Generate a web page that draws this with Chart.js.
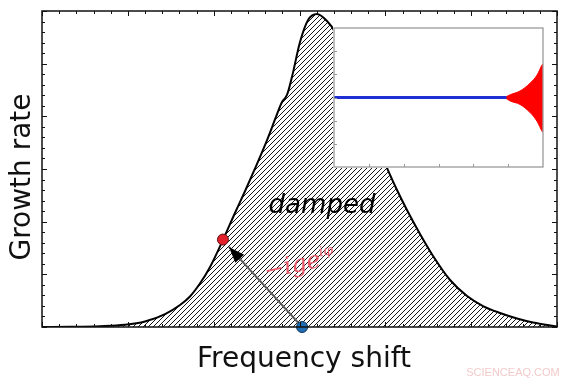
<!DOCTYPE html>
<html><head><meta charset="utf-8">
<script src="https://cdn.jsdelivr.net/npm/chart.js@4"></script>
<style>
html,body{margin:0;padding:0;background:#fff;}
#wrap{position:relative;width:571px;height:381px;overflow:hidden;}
#main{position:absolute;left:0;top:0;}
#inset{position:absolute;left:333px;top:27px;}
</style></head><body>
<div id="wrap"><canvas id="main" width="571" height="381"></canvas><canvas id="inset" width="211" height="141"></canvas></div>
<script>
// ---- main curve (growth rate vs frequency shift), axis units 0..30 ----
const curveX = [0, 1.63, 3.38, 4.83, 6.00, 7.17, 8.04, 8.62, 9.20, 9.79, 10.54, 11.24, 11.83, 12.47, 13.11, 13.63, 13.98, 14.27, 14.56, 15.03, 15.50, 16.02, 16.60, 17.07, 17.83, 18.64, 19.40, 20.10, 20.68, 21.26, 22.02, 22.78, 23.77, 24.76, 25.69, 26.68, 27.67, 28.60, 30];
const curveY = [0, 0.02, 0.08, 0.21, 0.52, 1.23, 2.09, 2.90, 4.13, 5.70, 8.26, 10.82, 12.91, 15.28, 17.75, 19.94, 21.36, 22.03, 23.73, 27.06, 29.15, 29.72, 29.05, 28.01, 25.16, 21.27, 17.75, 15.09, 13.01, 11.11, 8.83, 6.74, 4.46, 2.94, 1.99, 1.33, 0.81, 0.43, 0.05];
const redPoint = [10.54, 8.3];
const bluePoint = [15.15, 0];
const arrowTip = [10.89, 7.6];
// ---- inset: signal vs time, units x 0..6, y -3..3 ----
const insetBlueX = [0, 4.95];
const insetBlueY = [0, 0];
const envX = [4.9, 5.06, 5.34, 5.63, 5.83, 5.98, 6.0];
const envUpper = [0, 0.12, 0.28, 0.62, 0.97, 1.42, 1.45];
const envLower = [0, -0.15, -0.3, -0.65, -1.03, -1.47, -1.5];
const xTicks = Array.from({length: 31}, (_, i) => i);
const yTicks = Array.from({length: 31}, (_, i) => i);
const insetXTicks = [1, 2, 3, 4, 5];
const insetYTicks = [-2, -1, 0, 1, 2];
const labels = {x: 'Frequency shift', y: 'Growth rate', region: 'damped', formula: '\u2212ige', formulaSup: 'i\u03c6', mark: 'SCIENCEAQ.COM'};

const pts = (xs, ys) => xs.map((x, i) => ({x, y: ys[i]}));

const mainCanvas = document.getElementById('main');
const mctx = mainCanvas.getContext('2d');
function hatch() {
  const c = document.createElement('canvas'); c.width = 5; c.height = 5;
  const g = c.getContext('2d');
  g.strokeStyle = '#151515'; g.lineWidth = 1;
  g.beginPath();
  g.moveTo(0, 5); g.lineTo(5, 0);
  g.moveTo(-1, 1); g.lineTo(1, -1);
  g.moveTo(4, 6); g.lineTo(6, 4);
  g.stroke();
  return mctx.createPattern(c, 'repeat');
}

const frameMain = {
  id: 'frameMain',
  afterDatasetsDraw(chart) {
    const {ctx, chartArea: a, scales: {x, y}} = chart;
    ctx.save();
    // arrowhead
    const bx = x.getPixelForValue(bluePoint[0]), by = y.getPixelForValue(bluePoint[1]);
    const tx = x.getPixelForValue(arrowTip[0]), ty = y.getPixelForValue(arrowTip[1]);
    const ang = Math.atan2(ty - by, tx - bx);
    const L = 16, W = 6;
    ctx.fillStyle = '#000';
    ctx.beginPath();
    ctx.moveTo(tx, ty);
    ctx.lineTo(tx - L * Math.cos(ang) + W * Math.sin(ang), ty - L * Math.sin(ang) - W * Math.cos(ang));
    ctx.lineTo(tx - L * Math.cos(ang) - W * Math.sin(ang), ty - L * Math.sin(ang) + W * Math.cos(ang));
    ctx.closePath(); ctx.fill();
    // frame
    ctx.strokeStyle = '#111'; ctx.lineWidth = 1.5;
    ctx.strokeRect(a.left, a.top, a.right - a.left, a.bottom - a.top);
    ctx.lineWidth = 1;
    ctx.beginPath();
    xTicks.forEach(v => {
      const px = Math.round(x.getPixelForValue(v)) + 0.5;
      const l = v % 5 === 0 ? 5 : 3;
      ctx.moveTo(px, a.top); ctx.lineTo(px, a.top + l);
      ctx.moveTo(px, a.bottom); ctx.lineTo(px, a.bottom - l);
    });
    yTicks.forEach(v => {
      const py = Math.round(y.getPixelForValue(v)) + 0.5;
      const l = v % 5 === 0 ? 5 : 3;
      ctx.moveTo(a.left, py); ctx.lineTo(a.left + l, py);
      ctx.moveTo(a.right, py); ctx.lineTo(a.right - l, py);
    });
    ctx.stroke();
    ctx.restore();
  },
  afterDraw(chart) {
    const {ctx} = chart;
    ctx.save();
    ctx.fillStyle = '#111';
    ctx.font = '28px "DejaVu Sans"';
    ctx.textAlign = 'center'; ctx.textBaseline = 'alphabetic';
    ctx.fillText(labels.x, 304, 367);
    ctx.save();
    ctx.translate(30, 177); ctx.rotate(-Math.PI / 2);
    ctx.fillText(labels.y, 0, 0);
    ctx.restore();
    ctx.font = 'oblique 26px "DejaVu Sans"';
    ctx.fillStyle = '#000';
    ctx.fillText(labels.region, 322, 213);
    // formula
    ctx.save();
    ctx.translate(266, 279); ctx.rotate(-0.22);
    ctx.fillStyle = 'rgb(236,88,104)';
    ctx.textAlign = 'left';
    ctx.font = 'italic 24px "DejaVu Serif"';
    ctx.fillText(labels.formula, 0, 0);
    const w = ctx.measureText(labels.formula).width;
    ctx.font = 'italic 14px "DejaVu Serif"';
    ctx.fillText(labels.formulaSup, w, -10);
    ctx.restore();
    ctx.fillStyle = '#f3caca';
    ctx.font = '11px "Liberation Sans"';
    ctx.textAlign = 'center';
    ctx.fillText(labels.mark, 513, 376);
    ctx.restore();
  }
};

new Chart(mctx, {
  type: 'line',
  data: {
    datasets: [
      {data: [{x: redPoint[0], y: redPoint[1]}], showLine: false, pointRadius: 5.5, pointBackgroundColor: '#e3202a', pointBorderColor: '#5a1010', pointBorderWidth: 1, order: 0},
      {data: [{x: bluePoint[0], y: bluePoint[1]}], showLine: false, pointRadius: 5.5, pointBackgroundColor: '#1f6db3', pointBorderColor: '#0d3560', pointBorderWidth: 1, order: 0, clip: false},
      {data: [{x: bluePoint[0], y: bluePoint[1]}, {x: arrowTip[0], y: arrowTip[1]}], borderColor: '#5c5c5c', borderWidth: 2, pointRadius: 0, fill: false, order: 1},
      {data: pts(curveX, curveY), borderColor: '#000', borderWidth: 2, pointRadius: 0, fill: 'origin', backgroundColor: hatch(), cubicInterpolationMode: 'monotone', order: 2}
    ]
  },
  options: {
    responsive: false, animation: false, devicePixelRatio: 1,
    layout: {padding: {left: 42, right: 14, top: 11, bottom: 54}},
    scales: {
      x: {type: 'linear', min: 0, max: 30, display: false},
      y: {type: 'linear', min: 0, max: 30, display: false}
    },
    plugins: {legend: {display: false}, tooltip: {enabled: false}, title: {display: false}}
  },
  plugins: [frameMain]
});

const frameInset = {
  id: 'frameInset',
  beforeDraw(chart) {
    const {ctx} = chart;
    ctx.save(); ctx.fillStyle = '#fff'; ctx.fillRect(0, 0, chart.width, chart.height); ctx.restore();
  },
  afterDraw(chart) {
    const {ctx, chartArea: a, scales: {x, y}} = chart;
    ctx.save();
    ctx.strokeStyle = '#9a9a9a'; ctx.lineWidth = 1.3;
    ctx.strokeRect(a.left, a.top, a.right - a.left, a.bottom - a.top);
    ctx.lineWidth = 1;
    ctx.beginPath();
    insetXTicks.forEach(v => { const px = Math.round(x.getPixelForValue(v)) + 0.5; ctx.moveTo(px, a.bottom); ctx.lineTo(px, a.bottom - 3); });
    insetYTicks.forEach(v => { const py = Math.round(y.getPixelForValue(v)) + 0.5; ctx.moveTo(a.left, py); ctx.lineTo(a.left + 3, py); });
    ctx.stroke();
    ctx.restore();
  }
};

new Chart(document.getElementById('inset').getContext('2d'), {
  type: 'line',
  data: {
    datasets: [
      {data: pts(insetBlueX, insetBlueY), borderColor: '#1f2fd4', borderWidth: 3, pointRadius: 0, fill: false, order: 0},
      {data: pts(envX, envUpper), borderColor: '#ff0000', borderWidth: 1, pointRadius: 0, fill: '+1', backgroundColor: '#ff0000', cubicInterpolationMode: 'monotone', order: 1},
      {data: pts(envX, envLower), borderColor: '#ff0000', borderWidth: 1, pointRadius: 0, fill: false, cubicInterpolationMode: 'monotone', order: 1}
    ]
  },
  options: {
    responsive: false, animation: false, devicePixelRatio: 1,
    layout: {padding: {left: 1, right: 1, top: 1, bottom: 1}},
    scales: {
      x: {type: 'linear', min: 0, max: 6, display: false},
      y: {type: 'linear', min: -3, max: 3, display: false}
    },
    plugins: {legend: {display: false}, tooltip: {enabled: false}}
  },
  plugins: [frameInset]
});
</script>
</body></html>
